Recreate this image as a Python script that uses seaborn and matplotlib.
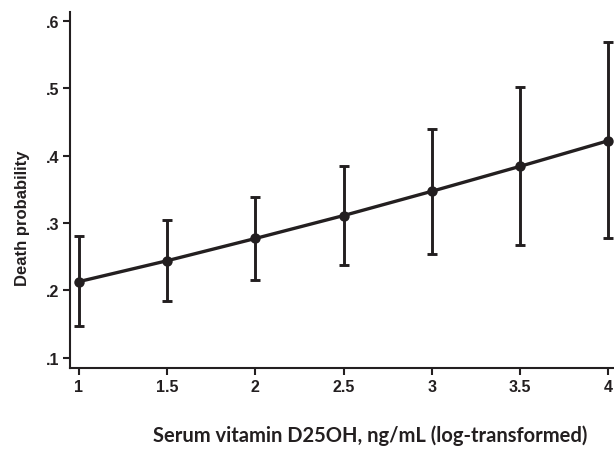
import numpy as np
import pandas as pd
import seaborn as sns
import matplotlib.pyplot as plt

sns.set_style("ticks")
plt.rcParams['font.family'] = ['Liberation Sans', 'DejaVu Sans']

# log-transformed serum vitamin D25OH and predicted death probability
vitd = [1.0, 1.5, 2.0, 2.5, 3.0, 3.5, 4.0]
prob = [0.213, 0.244, 0.277, 0.311, 0.347, 0.384, 0.422]
ci_low = [0.147, 0.184, 0.215, 0.238, 0.254, 0.267, 0.278]
ci_high = [0.280, 0.305, 0.339, 0.385, 0.440, 0.502, 0.569]

ink = '#231f20'

df = pd.DataFrame({'vitd': vitd, 'prob': prob})

fig = plt.figure(figsize=(6.14, 4.52), dpi=100)
ax = fig.add_axes([0.114, 0.184, 0.891, 0.787])

ax.errorbar(vitd, prob,
            yerr=[np.array(prob) - np.array(ci_low), np.array(ci_high) - np.array(prob)],
            fmt='none', ecolor=ink, elinewidth=2.1, capsize=3.7, capthick=2.1, zorder=2)
sns.lineplot(data=df, x='vitd', y='prob', ax=ax, color=ink, linewidth=2.4,
             marker='o', markersize=7.5, markeredgewidth=0, zorder=3)

ax.set_xlim(0.949, 4.051)
ax.set_ylim(0.085, 0.613)
ax.set_xticks(vitd)
ax.set_xticklabels(['1', '1.5', '2', '2.5', '3', '3.5', '4'])
ax.set_yticks([0.1, 0.2, 0.3, 0.4, 0.5, 0.6])
ax.set_yticklabels(['.1', '.2', '.3', '.4', '.5', '.6'])

for lab in ax.get_xticklabels() + ax.get_yticklabels():
    lab.set_fontweight('bold')
    lab.set_fontsize(11.5)
    lab.set_color(ink)

ax.tick_params(axis='both', length=5, width=1.5, color=ink, pad=3)
sns.despine(ax=ax)
for s in ['left', 'bottom']:
    ax.spines[s].set_linewidth(1.5)
    ax.spines[s].set_color(ink)

ax.set_ylabel('Death probability', fontsize=12, fontweight='bold', color=ink)
ax.yaxis.set_label_coords(-0.074, 0.424)
ax.set_xlabel('Serum vitamin D25OH, ng/mL (log-transformed)', fontsize=14.5,
              fontweight='bold', color=ink, family=['Lato', 'DejaVu Sans'])
ax.xaxis.set_label_coords(0.548, -0.16)

fig.savefig('out.png', dpi=100)
